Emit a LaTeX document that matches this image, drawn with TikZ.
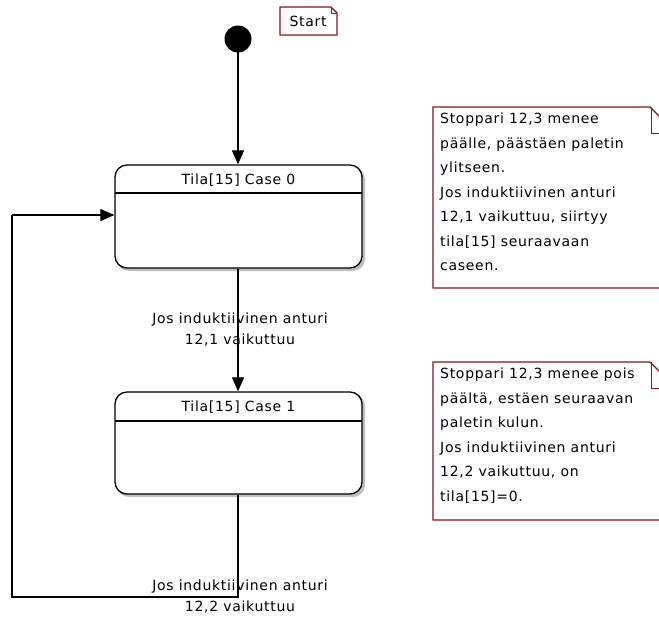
\documentclass[tikz,border=0pt]{standalone}
\usepackage{fontspec}
\usetikzlibrary{arrows.meta}
\newfontfamily\diafont[LetterSpace=5]{DejaVu Sans}
\definecolor{notered}{RGB}{128,24,32}
\begin{document}
\begin{tikzpicture}[x=1pt,y=-1pt,
  font=\diafont\fontsize{14}{21}\selectfont,
  statebox/.style={draw=black,line width=1.3pt,rounded corners=12pt,fill=white,
    minimum width=247pt,inner sep=0pt},
  stateshadow/.style={fill=black!25,rounded corners=12pt,draw=none},
  wire/.style={line width=1.2pt,draw=black},
  arr/.style={wire,-{Triangle[length=14pt,width=12pt]}},
  notebox/.style={draw=notered,line width=1.2pt,fill=white,line join=miter},
  notetext/.style={align=left,anchor=north west,inner sep=0pt,
    font=\diafont\fontsize{14}{24.5}\selectfont},
  translabel/.style={align=center,inner sep=0pt}]
\useasboundingbox (0,0) rectangle (659,624);
\clip (0,0) rectangle (659,624);
\fill[white] (0,0) rectangle (659,624);

% initial pseudo-state
\fill[black] (238,39) circle (13.5pt);
\coordinate (init) at (238,52);

% start note
\draw[notebox] (280,7) -- (331,7) -- (337,13) -- (337,35) -- (280,35) -- cycle;
\draw[notered,line width=0.8pt] (331,7) -- (331,13) -- (337,13);
\node[inner sep=0pt] (startnote) at (308,21) {Start};

% state Case 0
\fill[stateshadow] (117,167) rectangle (365,271);
\node[statebox,minimum height=103pt] (s0) at (238.5,216.5) {};
\draw[line width=1.2pt] (115,193) -- (362,193);
\node[inner sep=0pt] (t0) at (238.5,180) {Tila[15] Case 0};

% state Case 1
\fill[stateshadow] (117,394) rectangle (365,497);
\node[statebox,minimum height=102pt] (s1) at (238.5,443) {};
\draw[line width=1.2pt] (115,421) -- (362,421);
\node[inner sep=0pt] (t1) at (238.5,407) {Tila[15] Case 1};

% transitions
\draw[arr] (init) -- (init |- s0.north);
\draw[arr] (s0.south -| init) -- (s1.north -| init);
\coordinate (lowright) at (238,597);
\coordinate (lowleft) at (12,597);
\coordinate (upleft) at (12,215);
\draw[wire] (s1.south -| init) -- (lowright) -- (lowleft) -- (upleft);
\draw[arr] (upleft) -- (s0.west |- upleft);

\node[translabel] (l1) at (240,329) {Jos induktiivinen anturi\\12,1 vaikuttuu};
\node[translabel] (l2) at (240,596) {Jos induktiivinen anturi\\12,2 vaikuttuu};

% note 1
\draw[notebox] (433,107) -- (650,107) -- (676,133) -- (676,288) -- (433,288) -- cycle;
\draw[notered,line width=1pt] (651,107) -- (651,133) -- (676,133);
\node[notetext] (n1) at (440,113) {Stoppari 12,3 menee\\päälle, päästäen paletin\\ylitseen.\\Jos induktiivinen anturi\\12,1 vaikuttuu, siirtyy\\tila[15] seuraavaan\\caseen.};

% note 2
\draw[notebox] (433,362) -- (650,362) -- (676,388) -- (676,520) -- (433,520) -- cycle;
\draw[notered,line width=1pt] (651,362) -- (651,388) -- (676,388);
\node[notetext] (n2) at (440,368) {Stoppari 12,3 menee pois\\päältä, estäen seuraavan\\paletin kulun.\\Jos induktiivinen anturi\\12,2 vaikuttuu, on\\tila[15]=0.};
\end{tikzpicture}
\end{document}
